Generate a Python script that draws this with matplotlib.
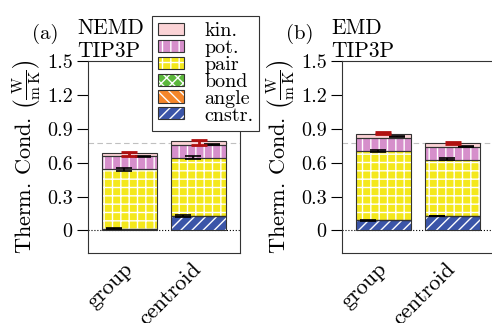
import numpy as np
import matplotlib
matplotlib.use("Agg")
import matplotlib.pyplot as plt
from matplotlib.patches import Patch
from matplotlib.legend_handler import HandlerTuple

plt.rcParams['font.family'] = 'cmr10'
plt.rcParams['mathtext.fontset'] = 'cm'
plt.rcParams['axes.formatter.use_mathtext'] = True
plt.rcParams['font.size'] = 14
plt.rcParams['hatch.linewidth'] = 1.0

categories = ['group', 'centroid']
components = ['cnstr.', 'angle', 'bond', 'pair', 'pot.', 'kin.']

# NEMD TIP3P (a), bottom to top
nemd_cnstr = [0.015, 0.124]
nemd_angle = [0.0, 0.0]
nemd_bond = [0.0, 0.0]
nemd_pair = [0.525, 0.521]
nemd_pot = [0.12, 0.112]
nemd_kin = [0.026, 0.033]

# EMD TIP3P (b)
emd_cnstr = [0.089, 0.127]
emd_angle = [0.0, 0.0]
emd_bond = [0.0, 0.0]
emd_pair = [0.615, 0.5]
emd_pot = [0.118, 0.109]
emd_kin = [0.036, 0.036]

# error bars: (value, error)
nemd_err_cnstr = ([0.018, 0.128], [0.006, 0.005])
nemd_err_pair = ([0.54, 0.648], [0.015, 0.014])
nemd_err_pot = ([0.655, 0.76], [0.003, 0.003])
nemd_err_tot = ([0.675, 0.78], [0.018, 0.02])

emd_err_cnstr = ([0.09, 0.128], [0.005, 0.004])
emd_err_pair = ([0.703, 0.63], [0.008, 0.008])
emd_err_pot = ([0.83, 0.745], [0.002, 0.002])
emd_err_tot = ([0.862, 0.775], [0.01, 0.01])

ref_line = 0.77

colors = ['#3b55a8', '#f5862a', '#5cb83c', '#f4e81c', '#d68fcb', '#fbd3d6']
hatches = ['///', '\\\\\\', 'xxx', '++', '||', '']

fig = plt.figure(figsize=(4.92, 3.23), dpi=100)
ax_a = fig.add_axes([0.1789, 0.2167, 0.3089, 0.5943])
ax_b = fig.add_axes([0.6951, 0.2167, 0.3089, 0.5943])

panels = [
    (ax_a, [nemd_cnstr, nemd_angle, nemd_bond, nemd_pair, nemd_pot, nemd_kin],
     [nemd_err_cnstr, nemd_err_pair, nemd_err_pot, nemd_err_tot], 'NEMD\nTIP3P', '(a)'),
    (ax_b, [emd_cnstr, emd_angle, emd_bond, emd_pair, emd_pot, emd_kin],
     [emd_err_cnstr, emd_err_pair, emd_err_pot, emd_err_tot], 'EMD\nTIP3P', '(b)'),
]

x = np.arange(len(categories))
w = 0.8
for ax, stack, errs, title, tag in panels:
    bottom = np.zeros(len(categories))
    for vals, c, h in zip(stack, colors, hatches):
        vals = np.array(vals)
        ax.bar(x, vals, w, bottom=bottom, color=c, hatch=h, edgecolor='white',
               linewidth=0, zorder=2)
        ax.bar(x, vals, w, bottom=bottom, fill=False, edgecolor='#333333',
               linewidth=0.8, zorder=3)
        bottom += vals

    offsets = [-0.23, -0.08, 0.2, 0.0]
    ecols = ['black', 'black', 'black', '#b01010']
    elws = [1.2, 1.2, 1.2, 2.0]
    for (yv, ye), off, ec, lw in zip(errs, offsets, ecols, elws):
        ax.errorbar(x + off, yv, yerr=ye, fmt='none', ecolor=ec, elinewidth=lw,
                    capsize=6, capthick=lw, zorder=4)

    ax.axhline(0, color='black', ls=':', lw=0.8, zorder=1)
    ax.axhline(ref_line, color='#c0c0c0', ls=(0, (5, 3)), lw=0.8, zorder=1)

    ax.set_xlim(-0.6, 1.6)
    ax.set_ylim(-0.2, 1.5)
    ax.set_yticks([0, 0.3, 0.6, 0.9, 1.2, 1.5])
    ax.set_yticklabels(['0', '0.3', '0.6', '0.9', '1.2', '1.5'], fontsize=14.5)
    ax.set_xticks(x)
    ax.set_xticklabels(categories, rotation=45, ha='right', va='center',
                       rotation_mode='anchor', fontsize=16)
    ax.tick_params(axis='x', length=0, pad=9)
    ax.tick_params(axis='y', length=8, width=0.8, pad=3)
    ax.set_ylabel(r'Therm. Cond. $\left(\frac{\mathrm{W}}{\mathrm{m\,K}}\right)$',
                  fontsize=16, labelpad=3)
    for s in ax.spines.values():
        s.set_linewidth(0.8)
        s.set_color('#333333')
    ax.text(-0.07, 1.0, title, transform=ax.transAxes, ha='left', va='bottom',
            linespacing=1.2, fontsize=15.5)
    ax.text(-0.37, 1.09, tag, transform=ax.transAxes, ha='left', va='bottom',
            fontsize=15)

handles = []
for c, h in zip(colors, hatches):
    p1 = Patch(facecolor=c, hatch=h, edgecolor='white', linewidth=0)
    p2 = Patch(fill=False, edgecolor='#333333', linewidth=0.8)
    handles.append((p1, p2))

ax_a.legend(handles[::-1], components[::-1],
            handler_map={tuple: HandlerTuple(ndivide=1, pad=0)},
            loc='upper left', bbox_to_anchor=(0.42, 1.235), fontsize=14.5, frameon=True,
            fancybox=False, edgecolor='#333333', framealpha=1, labelspacing=-0.05,
            handlelength=1.3, handleheight=0.55, handletextpad=1.0, borderpad=0.3,
            borderaxespad=0)
ax_a.get_legend().get_frame().set_linewidth(0.8)

fig.savefig('out.png', dpi=100)
